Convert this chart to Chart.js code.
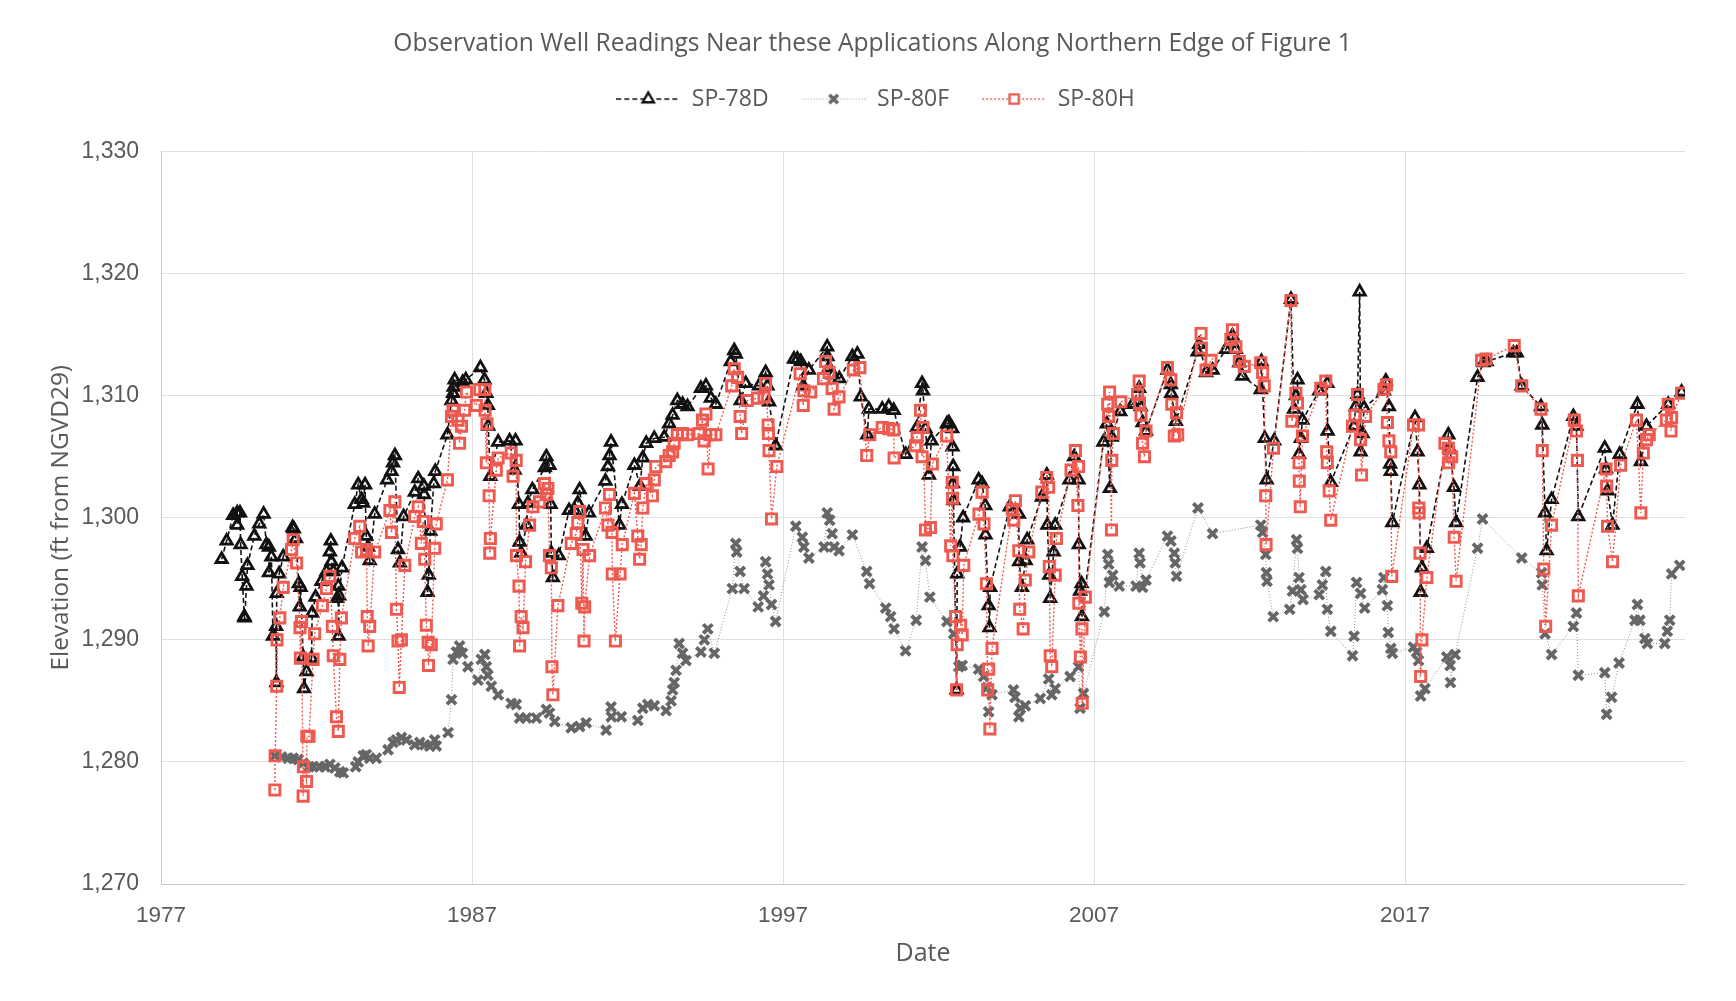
<!DOCTYPE html>
<html>
<head>
<meta charset="utf-8">
<title>Observation Well Readings</title>
<script src="https://cdn.jsdelivr.net/npm/chart.js@4"></script>
<style>
html,body{margin:0;padding:0;background:#fff;}
#wrap{position:relative;width:1736px;height:1001px;}
canvas{display:block;}
</style>
</head>
<body>
<div id="wrap"><canvas id="c" width="1736" height="1001"></canvas></div>
<script>
const chartTitle = "Observation Well Readings Near these Applications Along Northern Edge of Figure 1";
const yAxisTitle = "Elevation (ft from NGVD29)";
const xAxisTitle = "Date";
const seriesNames = ["SP-78D", "SP-80F", "SP-80H"];
const xTickYears = [1977, 1987, 1997, 2007, 2017];

const sp78dYears = [1978.95,1979.11,1979.32,1979.45,1979.54,1979.45,1979.56,1979.78,1979.61,1979.75,1979.68,1979.69,1980.0,1980.16,1980.3,1980.39,1980.47,1980.55,1980.47,1980.8,1980.93,1980.72,1980.7,1980.6,1980.71,
1981.23,1981.27,1981.34,1981.43,1981.49,1981.46,1981.57,1981.68,1981.6,1981.84,1981.86,1981.97,1982.16,1982.32,1982.46,1982.43,1982.48,1982.54,1982.7,1982.73,1982.66,1982.82,1982.71,
1983.23,1983.34,1983.45,1983.56,1983.5,1983.6,1983.66,1983.71,1983.87,1984.27,1984.41,1984.52,1984.46,1984.62,1984.68,1984.8,1985.16,1985.27,1985.45,1985.46,1985.66,1985.61,1985.57,1985.77,1985.82,
1986.21,1986.34,1986.41,1986.44,1986.39,1986.8,1986.7,1987.27,1987.4,1987.46,1987.51,1987.52,1987.59,1987.84,1988.21,1988.4,1988.37,1988.51,1988.75,1988.53,1988.58,1988.94,1988.8,
1989.39,1989.34,1989.49,1989.53,1989.55,1989.6,1989.79,1990.12,1990.46,1990.4,1990.3,1990.76,1990.65,1991.29,1991.37,1991.42,1991.47,1991.82,1991.74,1992.22,1992.49,1992.6,1992.4,
1992.86,1993.18,1993.34,1993.45,1993.6,1993.77,1993.93,1994.36,1994.52,1994.68,1994.84,1995.32,1995.43,1995.48,1995.8,1995.64,1996.23,1996.44,1996.5,1996.55,1996.76,
1997.35,1997.46,1997.57,1997.83,1997.65,1998.42,1998.43,1998.48,1998.6,1998.81,1999.23,1999.39,1999.5,1999.71,1999.76,2000.19,2000.4,2000.56,2000.94,2001.31,2001.47,2001.5,2001.58,2001.77,2001.69,
2002.27,2002.33,2002.44,2002.45,2002.47,2002.46,2002.48,2002.79,2002.69,2002.6,2002.58,2003.29,2003.4,2003.5,2003.51,2003.66,2003.61,2003.64,2004.29,2004.58,2004.85,2004.59,2004.8,2004.68,
2005.32,2005.48,2005.5,2005.75,2005.7,2005.56,2005.59,2006.21,2006.36,2006.5,2006.51,2006.6,2006.55,2006.61,2007.3,2007.41,2007.57,2007.51,2007.84,
2008.24,2008.45,2008.5,2008.56,2008.67,2009.36,2009.47,2009.48,2009.63,2010.33,2010.38,2010.6,2010.81,2011.24,2011.45,2011.56,2011.67,2011.77,2012.36,2012.38,2012.49,2012.55,2012.79,
2013.33,2013.54,2013.49,2013.43,2013.7,2013.65,2013.59,2014.24,2014.5,2014.51,2014.61,2015.54,2015.47,2015.41,2015.36,2015.68,2015.63,2015.57,2016.38,2016.32,2016.48,2016.52,2016.54,2016.59,
2017.32,2017.4,2017.46,2017.54,2017.7,2017.5,2018.39,2018.45,2018.57,2018.64,2019.33,2019.52,2019.62,2020.48,2020.59,2020.75,2021.37,2021.41,2021.71,2021.5,2021.55,
2022.41,2022.51,2022.57,2023.42,2023.46,2023.51,2023.67,2023.9,2024.58,2024.76,2024.47,2025.46,2025.89];
const sp78dValues = [1296.6,1298.1,1300.2,1300.4,1300.4,1299.4,1297.8,1296.1,1295.2,1294.4,1291.9,1291.8,1298.5,1299.5,1300.3,1297.8,1297.6,1296.8,1295.5,1295.4,1296.8,1293.8,1291.1,1290.3,1286.5,
1299.2,1299.1,1298.3,1294.6,1294.3,1292.7,1288.6,1287.4,1286.0,1288.5,1292.2,1293.5,1294.8,1295.6,1298.1,1297.2,1296.4,1295.6,1294.4,1293.6,1293.4,1295.9,1290.3,
1301.1,1302.7,1301.5,1302.7,1301.2,1298.5,1297.6,1296.5,1300.3,1303.1,1303.8,1305.1,1304.5,1297.4,1296.3,1300.1,1302.1,1303.2,1302.6,1301.9,1298.9,1295.3,1293.9,1302.8,1303.8,
1306.8,1309.6,1310.7,1311.3,1310.2,1311.3,1311.1,1312.3,1311.3,1310.2,1309.2,1307.5,1303.4,1306.2,1306.3,1306.3,1303.9,1301.1,1299.4,1298.0,1297.1,1302.3,1301.2,
1305.0,1304.1,1304.3,1301.1,1297.1,1295.1,1296.9,1300.6,1302.3,1301.2,1300.6,1300.4,1298.5,1303.0,1304.2,1305.1,1306.2,1301.1,1299.4,1304.3,1304.9,1306.1,1302.6,
1306.5,1306.6,1307.7,1308.4,1309.6,1309.3,1309.1,1310.6,1310.8,1309.8,1309.3,1312.8,1313.7,1313.4,1311.0,1309.6,1310.8,1311.9,1310.8,1309.5,1305.9,
1313.0,1313.0,1312.8,1312.1,1310.8,1314.0,1313.2,1312.3,1311.7,1311.4,1313.2,1313.4,1309.9,1306.8,1308.9,1308.9,1309.1,1308.8,1305.2,1307.4,1311.0,1310.4,1307.3,1306.3,1303.5,
1307.7,1307.8,1307.3,1305.8,1304.2,1302.8,1301.4,1300.0,1297.6,1295.4,1285.9,1303.1,1302.8,1301.0,1298.6,1294.3,1292.8,1291.0,1300.9,1300.3,1298.2,1296.4,1296.5,1294.3,
1301.7,1303.5,1299.4,1299.4,1297.2,1295.3,1293.4,1303.1,1305.0,1303.1,1297.8,1294.6,1294.0,1291.9,1306.2,1307.7,1306.6,1302.4,1308.7,
1309.3,1310.6,1309.1,1307.8,1307.1,1312.1,1310.9,1310.2,1307.9,1313.6,1314.2,1311.9,1312.1,1313.8,1314.9,1313.8,1312.7,1311.6,1310.5,1312.8,1306.5,1303.1,1306.3,
1317.9,1311.3,1310.0,1308.9,1308.0,1306.5,1305.2,1310.4,1311.0,1307.1,1302.9,1318.5,1310.1,1309.1,1307.5,1309.0,1306.9,1305.4,1311.2,1310.4,1309.1,1304.4,1303.8,1299.6,
1308.2,1305.4,1302.7,1295.9,1297.5,1293.9,1306.8,1305.6,1302.5,1299.6,1311.5,1312.7,1312.8,1313.5,1313.5,1310.8,1309.1,1307.6,1301.5,1300.4,1297.3,
1308.3,1307.5,1300.1,1305.7,1304.0,1302.2,1299.4,1305.2,1304.6,1307.5,1309.3,1309.3,1310.3];

const sp80fYears = [1980.66,1980.88,1981.09,1981.25,1981.41,1981.57,1981.76,1981.89,1982.1,1982.27,1982.43,1982.59,1982.75,1982.86,1983.26,1983.34,1983.5,1983.6,1983.71,1983.92,1984.3,1984.46,1984.57,1984.73,1984.89,1985.16,1985.32,1985.48,1985.64,1985.8,1985.85,1986.23,1986.34,1986.39,1986.5,1986.6,1986.69,1986.87,1987.19,1987.3,1987.41,1987.46,1987.51,1987.62,1987.84,1988.26,1988.42,1988.53,1988.75,1989.07,1989.39,1989.49,1989.66,1990.19,1990.46,1990.67,1991.31,1991.47,1991.48,1991.8,1992.33,1992.49,1992.65,
1992.86,1993.24,1993.4,1993.45,1993.5,1993.56,1993.88,1993.77,1993.66,1994.36,1994.47,1994.58,1994.79,1995.37,1995.62,1995.48,1995.51,1995.75,1996.2,1996.37,1996.44,1996.5,1996.55,1996.63,1996.76,1997.41,1997.62,1997.67,1997.83,1998.32,1998.42,1998.5,1998.58,1998.64,1998.8,1999.23,1999.69,1999.78,2000.3,2000.46,2000.57,2000.94,2001.28,2001.47,2001.58,2001.72,2002.27,2002.49,2002.65,2002.76,2003.29,2003.45,2003.61,2003.56,2003.72,2004.41,2004.46,2004.58,2004.63,2004.79,2005.27,2005.54,2005.64,2005.75,2006.23,2006.5,2006.55,2006.66,
2007.33,2007.44,2007.47,2007.6,2007.49,2007.81,2008.35,2008.45,2008.48,2008.67,2008.56,2009.36,2009.47,2009.58,2009.61,2009.65,2010.34,2010.81,2012.36,2012.42,2012.52,2012.54,2012.56,2012.76,2013.29,2013.38,2013.51,2013.54,2013.59,2013.65,2013.72,2014.24,2014.34,2014.45,2014.5,2014.61,2015.31,2015.36,2015.44,2015.57,2015.7,2016.27,2016.32,2016.43,2016.46,2016.54,2016.59,
2017.27,2017.37,2017.43,2017.5,2017.64,2018.34,2018.45,2018.61,2018.46,2019.33,2019.49,2020.75,2021.41,2021.39,2021.5,2021.71,2022.41,2022.51,2022.57,2023.42,2023.48,2023.64,2023.88,2024.39,2024.47,2024.55,2024.71,2024.79,2025.35,2025.43,2025.51,2025.57,2025.83];
const sp80fValues = [1280.5,1280.4,1280.3,1280.3,1280.2,1279.9,1279.6,1279.6,1279.6,1279.6,1279.8,1279.5,1279.2,1279.1,1279.6,1280.0,1280.5,1280.6,1280.3,1280.3,1281.0,1281.6,1281.8,1282.0,1281.8,1281.4,1281.6,1281.4,1281.3,1281.8,1281.3,1282.4,1285.1,1288.4,1289.0,1289.5,1288.9,1287.8,1286.7,1288.4,1288.8,1287.8,1287.1,1286.2,1285.5,1284.8,1284.7,1283.6,1283.6,1283.6,1284.3,1284.0,1283.3,1282.8,1282.9,1283.2,1282.6,1284.5,1283.7,1283.7,1283.4,1284.4,1284.7,
1284.6,1284.2,1285.0,1285.9,1286.5,1287.5,1288.3,1288.9,1289.7,1289.0,1290.0,1290.9,1288.9,1294.2,1295.6,1297.9,1297.2,1294.2,1292.7,1293.6,1296.4,1295.4,1294.5,1292.9,1291.5,1299.3,1298.4,1297.6,1296.7,1297.6,1300.4,1299.8,1298.7,1297.6,1297.3,1298.6,1295.6,1294.6,1292.6,1291.9,1290.9,1289.1,1291.6,1297.6,1296.5,1293.5,1291.5,1290.5,1287.8,1287.9,1287.6,1287.0,1284.1,1286.1,1285.5,1285.9,1285.3,1283.7,1284.4,1284.6,1285.2,1286.8,1285.5,1286.0,1287.0,1287.8,1284.4,1285.6,
1292.3,1297.0,1296.2,1295.3,1294.7,1294.4,1294.4,1297.1,1296.3,1294.9,1294.3,1298.5,1298.1,1297.1,1296.3,1295.2,1300.8,1298.7,1299.4,1298.8,1297.0,1295.5,1294.8,1291.9,1292.5,1294.0,1298.2,1297.5,1295.1,1294.1,1293.3,1293.7,1294.5,1295.6,1292.5,1290.7,1288.7,1290.3,1294.7,1293.8,1292.6,1294.1,1295.1,1292.8,1290.6,1289.3,1288.9,
1289.4,1289.0,1288.3,1285.4,1286.0,1288.6,1287.9,1288.8,1286.5,1297.5,1299.9,1296.7,1294.5,1295.5,1290.5,1288.8,1291.1,1292.2,1287.1,1287.3,1283.9,1285.3,1288.1,1291.6,1292.9,1291.6,1290.1,1289.7,1289.7,1290.7,1291.6,1295.4,1296.1];

const sp80hYears = [1980.66,1980.67,1980.72,1980.73,1980.82,1980.93,1981.2,1981.25,1981.36,1981.47,1981.52,1981.48,1981.57,1981.58,1981.68,1981.69,1981.76,1981.89,1981.94,1982.19,1982.32,1982.43,1982.51,1982.54,1982.64,1982.7,1982.75,1982.8,
1983.23,1983.39,1983.45,1983.61,1983.63,1983.71,1983.66,1983.87,1984.36,1984.52,1984.41,1984.57,1984.62,1984.66,1984.73,1984.84,1985.16,1985.27,1985.43,1985.37,1985.48,1985.53,1985.59,1985.6,1985.69,1985.8,1985.85,
1986.21,1986.34,1986.39,1986.55,1986.6,1986.66,1986.76,1986.82,1987.14,1987.25,1987.41,1987.42,1987.48,1987.46,1987.55,1987.59,1987.57,1987.78,1987.84,1988.26,1988.42,1988.32,1988.43,1988.51,1988.58,1988.64,1988.53,1988.72,1988.85,1988.96,
1989.17,1989.33,1989.44,1989.39,1989.49,1989.55,1989.57,1989.6,1989.76,1990.19,1990.35,1990.4,1990.46,1990.53,1990.57,1990.62,1990.6,1990.78,1991.29,1991.42,1991.37,1991.5,1991.51,1991.76,1991.61,1991.83,1992.22,1992.39,1992.33,1992.44,1992.49,1992.6,
1992.8,1992.86,1992.91,1993.23,1993.34,1993.45,1993.5,1993.6,1993.77,1993.93,1994.3,1994.41,1994.46,1994.52,1994.59,1994.68,1994.84,1995.35,1995.43,1995.54,1995.62,1995.67,1995.85,1996.18,1996.44,1996.39,1996.52,1996.53,1996.55,1996.63,1996.8,
1997.55,1997.67,1997.65,1997.89,1998.3,1998.37,1998.48,1998.58,1998.64,1998.8,1999.26,1999.47,1999.69,1999.79,2000.19,2000.4,2000.56,2000.57,2001.26,2001.31,2001.42,2001.5,2001.58,2001.74,2001.47,2001.8,
2002.26,2002.44,2002.45,2002.39,2002.46,2002.55,2002.71,2002.76,2002.6,2002.58,2002.81,2003.3,2003.4,2003.46,2003.54,2003.61,2003.58,2003.65,2003.72,2004.37,2004.47,2004.42,2004.58,2004.61,2004.72,2004.79,2004.9,
2005.32,2005.48,2005.54,2005.56,2005.75,2005.59,2005.64,2005.79,2006.26,2006.4,2006.5,2006.48,2006.51,2006.61,2006.56,2006.62,2006.72,2007.44,2007.5,2007.47,2007.62,2007.57,2007.56,2007.86,
2008.4,2008.45,2008.46,2008.51,2008.56,2008.62,2008.67,2009.36,2009.47,2009.5,2009.58,2009.65,2009.69,2010.44,2010.45,2010.6,2010.76,2011.45,2011.4,2011.56,2011.67,2011.83,2012.36,2012.42,2012.47,2012.52,2012.77,2012.53,
2013.33,2013.49,2013.54,2013.36,2013.7,2013.59,2013.6,2013.63,2014.29,2014.45,2014.48,2014.5,2014.56,2014.61,2015.31,2015.39,2015.47,2015.73,2015.57,2015.6,2016.32,2016.4,2016.43,2016.48,2016.54,2016.57,
2017.27,2017.43,2017.44,2017.45,2017.48,2017.7,2017.54,2017.5,2018.28,2018.39,2018.5,2018.4,2018.58,2018.64,2019.46,2019.6,2020.51,2020.75,2021.37,2021.41,2021.71,2021.46,2021.52,
2022.44,2022.51,2022.54,2022.57,2023.46,2023.48,2023.51,2023.67,2023.93,2024.44,2024.66,2024.58,2024.76,2024.85,2025.4,2025.57,2025.55,2025.46,2025.89];
const sp80hValues = [1277.7,1280.5,1286.2,1290.0,1291.8,1294.3,1297.4,1298.2,1296.3,1291.0,1291.5,1288.5,1277.2,1279.6,1278.4,1282.1,1282.1,1288.4,1290.5,1292.8,1294.2,1295.2,1291.1,1288.7,1283.7,1282.5,1288.4,1291.8,
1298.3,1299.3,1297.2,1297.4,1291.9,1291.1,1289.5,1297.2,1300.6,1301.3,1298.8,1292.5,1289.9,1286.1,1290.0,1296.1,1300.1,1300.9,1299.7,1297.9,1296.6,1291.2,1289.8,1287.9,1289.6,1297.5,1299.5,
1303.1,1308.3,1308.8,1308.0,1306.1,1307.5,1308.8,1310.3,1309.2,1310.5,1310.5,1308.8,1307.7,1304.5,1301.8,1298.3,1297.1,1303.9,1304.9,1305.3,1304.7,1303.4,1296.9,1294.4,1291.9,1291.0,1289.5,1296.4,1299.4,1300.9,
1301.3,1302.8,1302.4,1301.9,1296.9,1295.9,1287.8,1285.5,1292.8,1297.9,1298.7,1299.6,1300.5,1293.0,1297.4,1292.7,1289.9,1296.9,1300.8,1301.9,1299.4,1298.8,1295.4,1295.4,1289.9,1297.8,1302.0,1296.6,1298.5,1297.8,1300.8,1302.8,
1301.8,1303.1,1304.2,1304.6,1305.1,1305.4,1306.1,1306.8,1306.9,1306.8,1306.9,1308.0,1306.3,1308.5,1304.0,1306.8,1306.8,1310.8,1312.2,1311.5,1308.3,1306.9,1309.6,1309.8,1311.0,1309.9,1307.6,1306.9,1305.5,1299.9,1304.2,
1311.8,1310.4,1309.2,1310.3,1311.4,1312.8,1311.9,1310.6,1308.9,1309.9,1312.1,1312.3,1305.1,1306.8,1307.4,1307.3,1307.2,1304.9,1305.9,1306.6,1308.8,1307.4,1299.0,1299.2,1305.0,1304.4,
1306.7,1302.9,1301.6,1297.7,1296.9,1291.9,1291.2,1290.4,1289.6,1285.9,1296.1,1300.3,1302.1,1299.5,1294.6,1287.6,1285.9,1282.7,1289.3,1300.7,1301.4,1299.8,1297.3,1292.5,1290.9,1294.9,1297.2,
1302.1,1303.3,1302.5,1296.0,1295.3,1288.7,1287.8,1298.3,1303.9,1305.5,1304.2,1301.0,1293.0,1290.9,1288.6,1284.8,1293.5,1309.3,1310.3,1308.3,1306.9,1304.7,1299.0,1309.5,
1310.1,1311.2,1309.4,1308.4,1306.1,1305.0,1307.1,1312.3,1311.3,1309.3,1306.7,1308.6,1306.8,1315.1,1313.9,1312.1,1312.9,1315.4,1314.6,1314.0,1312.8,1312.4,1312.7,1311.9,1310.8,1301.8,1305.7,1297.8,
1317.8,1310.2,1309.4,1307.9,1306.7,1304.5,1303.0,1300.9,1310.6,1311.2,1305.4,1304.5,1302.2,1299.8,1307.5,1308.4,1310.1,1308.3,1306.4,1303.5,1310.5,1310.9,1307.8,1306.3,1305.4,1295.2,
1307.6,1307.6,1300.8,1300.4,1297.1,1295.1,1290.0,1287.0,1306.1,1305.7,1305.0,1304.5,1298.4,1294.8,1312.9,1313.0,1314.1,1310.8,1308.9,1305.5,1299.4,1295.8,1291.1,
1308.0,1307.1,1304.7,1293.6,1304.0,1302.6,1299.3,1296.4,1304.3,1308.0,1305.3,1300.4,1306.4,1306.8,1308.0,1308.2,1307.1,1309.3,1310.2];

const xMin = 1977, xMax = 2026;
const yMin = 1270, yMax = 1330, yStep = 10;

const BLACK = "#111111", GREY = "#666666", RED = "#ee5a50", TEXT = "#595959", GRID = "#e0e0e0";

function toPoints(xs, ys) {
  return xs.map((x, i) => ({ x, y: ys[i] })).sort((a, b) => a.x - b.x);
}

function legendGlyph(kind) {
  const c = document.createElement("canvas");
  c.width = 64; c.height = 18;
  const g = c.getContext("2d");
  g.lineWidth = kind === "tri" ? 1.6 : (kind === "x" ? 1 : 1.4);
  g.strokeStyle = kind === "tri" ? BLACK : (kind === "x" ? "#9a9a9a" : RED);
  g.setLineDash(kind === "tri" ? [5, 3] : (kind === "x" ? [1, 2] : [2, 2]));
  g.beginPath(); g.moveTo(0, 9); g.lineTo(64, 9); g.stroke();
  g.setLineDash([]);
  g.fillStyle = "rgba(255,255,255,1)";
  g.lineWidth = kind === "x" ? 3.5 : 2.4;
  g.strokeStyle = kind === "tri" ? BLACK : (kind === "x" ? GREY : RED);
  Chart.helpers.drawPoint(g, { pointStyle: kind === "tri" ? "triangle" : (kind === "x" ? "crossRot" : "rect"), rotation: 0, radius: kind === "x" ? 6 : 6.5, borderWidth: kind === "x" ? 3.5 : 2.4 }, 32, 9);
  return c;
}

/* nudge the title and legend blocks sideways/up to sit where the reference has them */
const blockNudge = {
  id: "blockNudge",
  afterLayout(chart) {
    chart.titleBlock.left += 7; chart.titleBlock.right += 7;
    chart.legend.left += 10; chart.legend.right += 10;
    chart.legend.top -= 31; chart.legend.bottom -= 31;
  }
};

const fontFamily = "'Open Sans', 'Noto Sans', sans-serif";

new Chart(document.getElementById("c"), {
  type: "scatter",
  plugins: [blockNudge],
  data: {
    datasets: [
      { label: seriesNames[0], data: toPoints(sp78dYears, sp78dValues), showLine: true, order: 3,
        borderColor: BLACK, borderWidth: 1.6, borderDash: [5, 3],
        pointStyle: "triangle", pointRadius: 6.5, pointBorderColor: BLACK, pointBackgroundColor: "rgba(0,0,0,0)", pointBorderWidth: 2.8 },
      { label: seriesNames[1], data: toPoints(sp80fYears, sp80fValues), showLine: true, order: 2,
        borderColor: "#8f8f8f", borderWidth: 1, borderDash: [1, 2],
        pointStyle: "crossRot", pointRadius: 6.5, pointBorderColor: GREY, pointBackgroundColor: GREY, pointBorderWidth: 3.8 },
      { label: seriesNames[2], data: toPoints(sp80hYears, sp80hValues), showLine: true, order: 1,
        borderColor: RED, borderWidth: 1.4, borderDash: [2, 2],
        pointStyle: "rect", pointRadius: 7.2, pointBorderColor: RED, pointBackgroundColor: "rgba(0,0,0,0)", pointBorderWidth: 2.9 }
    ]
  },
  options: {
    responsive: false,
    animation: false,
    layout: { padding: { left: 46, right: 51, top: 0, bottom: 32.5 } },
    plugins: {
      title: { display: true, text: chartTitle, color: TEXT, font: { family: fontFamily, size: 24.6, weight: "normal" }, padding: { top: 29, bottom: 27 } },
      legend: {
        display: true,
        position: "top",
        labels: {
          usePointStyle: true,
          pointStyleWidth: 64,
          color: TEXT,
          padding: 33,
          font: { family: fontFamily, size: 23 },
          generateLabels(chart) {
            const kinds = ["tri", "x", "rect"];
            return chart.data.datasets.map((d, i) => ({
              text: d.label, datasetIndex: i, fontColor: TEXT, hidden: false,
              pointStyle: legendGlyph(kinds[i]), lineWidth: 0, strokeStyle: "transparent", fillStyle: "transparent"
            }));
          }
        }
      },
      tooltip: { enabled: false }
    },
    scales: {
      x: {
        type: "linear", min: xMin, max: xMax,
        afterBuildTicks(s) { s.ticks = xTickYears.map(v => ({ value: v })); },
        title: { display: true, text: xAxisTitle, color: TEXT, font: { family: fontFamily, size: 25 }, padding: { top: 10, bottom: 0 } },
        grid: { color: GRID, lineWidth: 1, drawTicks: false },
        border: { color: "#c8c8c8" },
        ticks: { color: TEXT, maxRotation: 0, padding: 18, font: { family: "'Liberation Sans', sans-serif", size: 22.5 }, callback: v => String(v) },
        afterFit(s) { s.height = 84.5; }
      },
      y: {
        type: "linear", min: yMin, max: yMax,
        title: { display: true, text: yAxisTitle, color: TEXT, font: { family: fontFamily, size: 24.4 }, padding: { top: 0, bottom: 8 } },
        grid: { color: GRID, lineWidth: 1, drawTicks: false },
        border: { color: "#c8c8c8" },
        ticks: { stepSize: yStep, color: TEXT, padding: 22, font: { family: "'Liberation Sans', sans-serif", size: 23 }, callback: v => v.toLocaleString("en-US") },
        afterFit(s) { s.width = 115; }
      }
    }
  }
});
</script>
</body>
</html>
